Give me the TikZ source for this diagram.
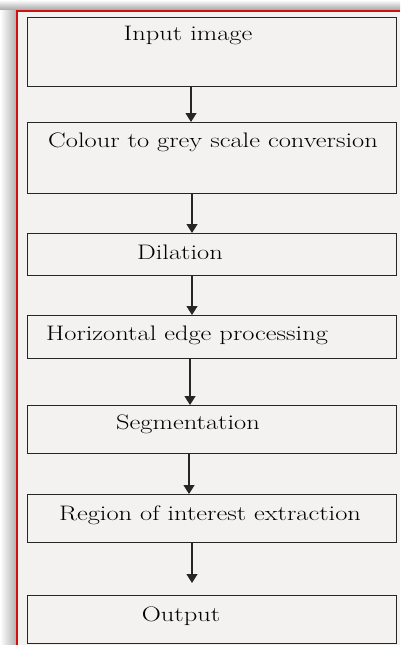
\documentclass[tikz,border=0pt]{standalone}
\usetikzlibrary{arrows.meta}
\definecolor{paper}{HTML}{F4F2F1}
\definecolor{frame}{HTML}{D01010}
\definecolor{ink}{HTML}{262626}
\begin{document}
\begin{tikzpicture}[x=1pt,y=-1pt,
  stepbox/.style={draw=ink,line width=1.3pt,minimum width=369pt,inner sep=0pt,anchor=north west,rectangle},
  lbl/.style={text=black,font=\fontsize{21}{23}\selectfont,inner sep=0pt,xscale=1.26,transform shape},
  flow/.style={draw=ink,line width=1.2pt,-{Triangle[length=9pt,width=11pt]}}]
\useasboundingbox (0,0) rectangle (400,645);
% background and shadow
\fill[paper] (0,0) rectangle (400,645);
\shade[top color=white,bottom color=black!35] (0,0) rectangle (400,10);
\shade[left color=white,right color=black!30] (0,10) rectangle (16,645);
\fill[paper] (16,10) rectangle (400,645);
\draw[frame,line width=2.2pt] (17,645) -- (17,11) -- (400,11);
% boxes
\node[stepbox,minimum height=69pt] (b1) at (27,17) {};
\node[stepbox,minimum height=71pt] (b2) at (27,122) {};
\node[stepbox,minimum height=42pt] (b3) at (27,233) {};
\node[stepbox,minimum height=43pt] (b4) at (27,315) {};
\node[stepbox,minimum height=48pt] (b5) at (27,405) {};
\node[stepbox,minimum height=48pt] (b6) at (27,494) {};
\node[stepbox,minimum height=48pt] (b7) at (27,595) {};
% labels
\node[lbl] (t1) at (188,35) {Input image};
\node[lbl] (t2) at (213,142) {Colour to grey scale conversion};
\node[lbl] (t3) at (180,252) {Dilation};
\node[lbl] (t4) at (187,335) {Horizontal edge processing};
\node[lbl] (t5) at (188,424) {Segmentation};
\node[lbl] (t6) at (210,515) {Region of interest extraction};
\node[lbl] (t7) at (181,616) {Output};
% arrows
\draw[flow] (b1.south west) ++(164,0) coordinate (a1) -- (a1 |- b2.north);
\draw[flow] (b2.south west) ++(165,0) coordinate (a2) -- (a2 |- b3.north);
\draw[flow] (b3.south west) ++(165,0) coordinate (a3) -- (a3 |- b4.north);
\draw[flow] (b4.south west) ++(163,0) coordinate (a4) -- (a4 |- b5.north);
\draw[flow] (b5.south west) ++(162,0) coordinate (a5) -- (a5 |- b6.north);
\draw[flow] (b6.south west) ++(165,0) coordinate (a6) -- ([yshift=12pt]a6 |- b7.north);
\end{tikzpicture}
\end{document}
